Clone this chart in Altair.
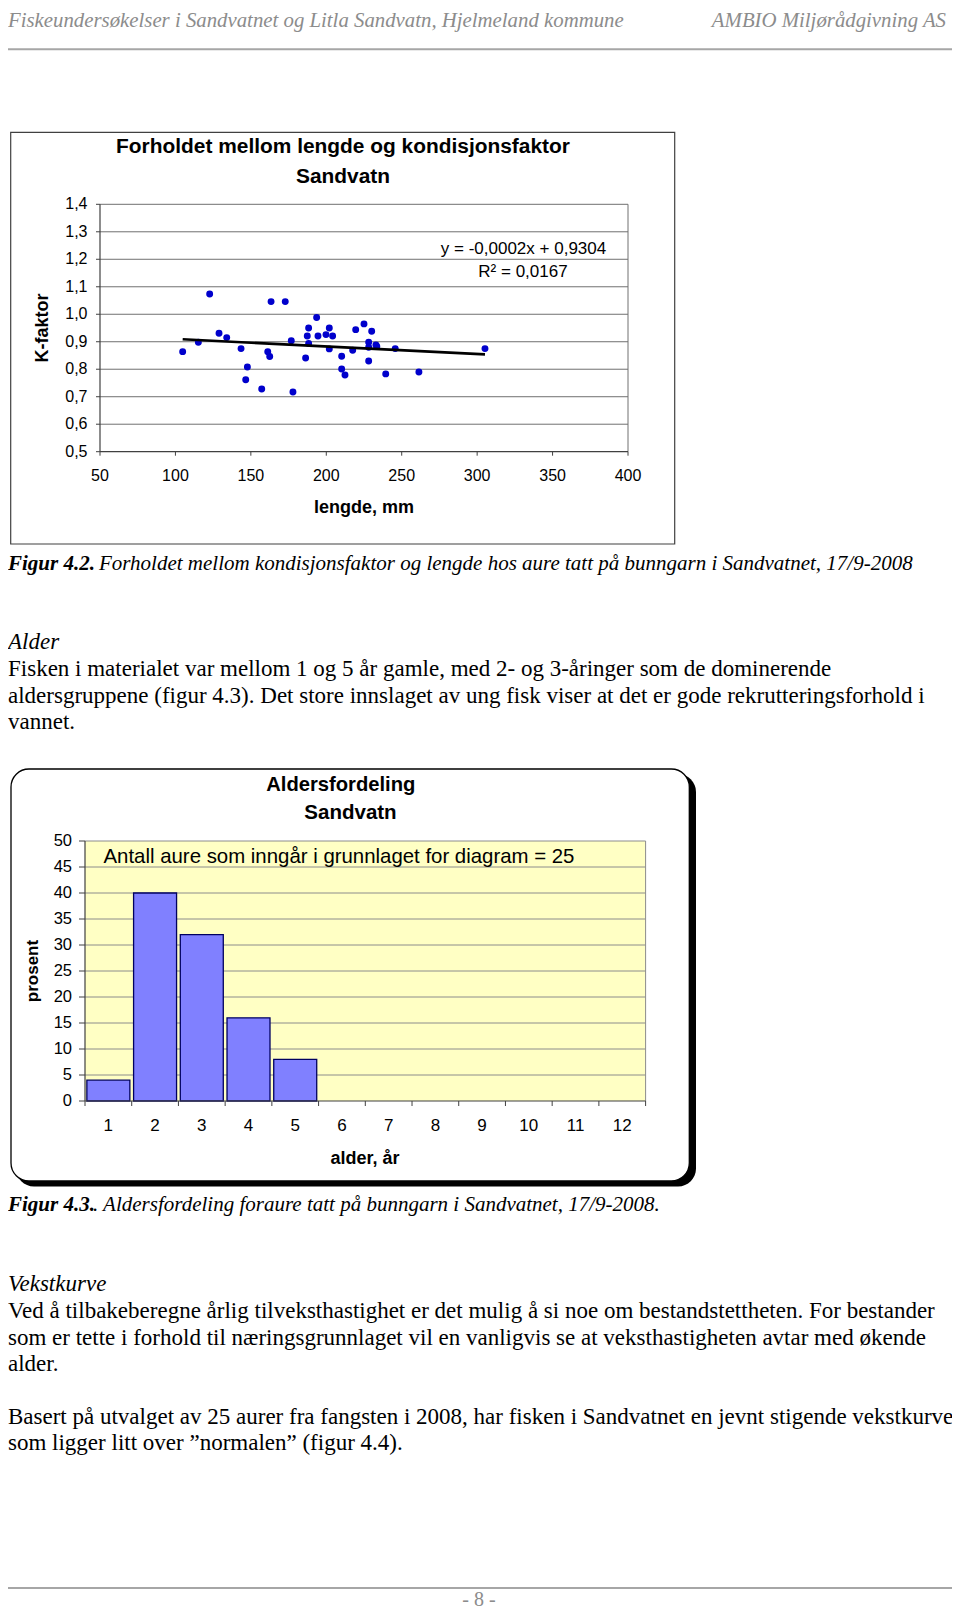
import altair as alt
import pandas as pd

OFF = 8
W, H = 944, 1603


def P(v):
    return v - OFF


# ---------------- data ----------------
lengde = [104.8, 115.2, 122.7, 128.9, 134.0, 143.5, 147.7, 146.6, 157.2, 161.2,
          162.5, 163.4, 172.8, 176.8, 177.9, 186.3, 187.4, 188.3, 188.3, 193.6,
          194.5, 199.8, 202.0, 202.0, 204.2, 210.2, 210.2, 212.4, 217.5, 219.5,
          225.0, 228.1, 228.1, 230.1, 228.1, 232.9, 233.5, 239.4, 245.7, 261.4, 305.2]
kfaktor = [0.864, 0.898, 1.074, 0.931, 0.915, 0.875, 0.808, 0.762, 0.728, 0.864,
           0.846, 1.046, 1.046, 0.904, 0.717, 0.841, 0.921, 0.950, 0.894, 0.988,
           0.921, 0.926, 0.950, 0.874, 0.921, 0.847, 0.801, 0.779, 0.869, 0.944,
           0.965, 0.898, 0.830, 0.938, 0.880, 0.888, 0.883, 0.783, 0.875, 0.790, 0.875]
trend_lengde = [104.8, 305.2]
trend_k = [0.909, 0.854]

s_xticks = [50, 100, 150, 200, 250, 300, 350, 400]
s_yticks = [0.5, 0.6, 0.7, 0.8, 0.9, 1.0, 1.1, 1.2, 1.3, 1.4]
s_ylabels = ["0,5", "0,6", "0,7", "0,8", "0,9", "1,0", "1,1", "1,2", "1,3", "1,4"]

alder_all = [str(a) for a in range(1, 13)]
alder = ["1", "2", "3", "4", "5"]
prosent = [4, 40, 32, 16, 8]
b_yticks = [0, 5, 10, 15, 20, 25, 30, 35, 40, 45, 50]
b_bounds = [0.5 + i for i in range(13)]

header_left = "Fiskeundersøkelser i Sandvatnet og Litla Sandvatn, Hjelmeland kommune"
header_right = "AMBIO Miljørådgivning AS"
cap1_bold = "Figur 4.2."
cap1_rest = "Forholdet mellom kondisjonsfaktor og lengde hos aure tatt på bunngarn i Sandvatnet, 17/9-2008"
alder_head = "Alder"
alder_lines = [
    "Fisken i materialet var mellom 1 og 5 år gamle, med 2- og 3-åringer som de dominerende",
    "aldersgruppene (figur 4.3). Det store innslaget av ung fisk viser at det er gode rekrutteringsforhold i",
    "vannet.",
]
cap2_bold = "Figur 4.3."
cap2_rest = ". Aldersfordeling foraure tatt på bunngarn i Sandvatnet, 17/9-2008."
vekst_head = "Vekstkurve"
vekst_lines = [
    "Ved å tilbakeberegne årlig tilveksthastighet er det mulig å si noe om bestandstettheten. For bestander",
    "som er tette i forhold til næringsgrunnlaget vil en vanligvis se at veksthastigheten avtar med økende",
    "alder.",
]
vekst_lines2 = [
    "Basert på utvalget av 25 aurer fra fangsten i 2008, har fisken i Sandvatnet en jevnt stigende vekstkurve",
    "som ligger litt over ”normalen” (figur 4.4).",
]

SERIF = "Liberation Serif"
SANS = "Liberation Sans"

# ---------------- scales ----------------
sx = alt.Scale(domain=[50, 400], range=[P(100), P(628)], nice=False, zero=False)
sy = alt.Scale(domain=[0.5, 1.4], range=[P(451.7), P(204.3)], nice=False, zero=False)
bx = alt.Scale(type="band", domain=alder_all, range=[P(85), P(645.6)],
               paddingInner=0.08, paddingOuter=0.04)
bxl = alt.Scale(domain=[0.5, 12.5], range=[P(85), P(645.6)], nice=False, zero=False)
by = alt.Scale(domain=[0, 50], range=[P(1101), P(841)], nice=False, zero=False)

ONE = alt.Data(values=[{"t": ""}])


def txt(s, x, y, size, font=SERIF, weight="normal", style="normal", align="left",
        color="black", angle=0):
    mk = dict(font=font, fontSize=size, fontWeight=weight, fontStyle=style,
              align=align, baseline="middle", color=color)
    if angle:
        mk["angle"] = angle
    return alt.Chart(alt.Data(values=[{"t": s}])).mark_text(**mk).encode(
        x=alt.value(P(x)), y=alt.value(P(y)), text="t:N")


def hline(x1, x2, y, color, width):
    return alt.Chart(ONE).mark_rule(color=color, strokeWidth=width).encode(
        x=alt.value(P(x1)), x2=alt.value(P(x2)), y=alt.value(P(y)))


def vline(x, y1, y2, color, width):
    return alt.Chart(ONE).mark_rule(color=color, strokeWidth=width).encode(
        x=alt.value(P(x)), y=alt.value(P(y1)), y2=alt.value(P(y2)))


def box(x1, y1, x2, y2, fill, stroke=None, sw=0, r=0):
    mk = dict(fill=fill, cornerRadius=r)
    if stroke:
        mk["stroke"] = stroke
        mk["strokeWidth"] = sw
    return alt.Chart(ONE).mark_rect(**mk).encode(
        x=alt.value(P(x1)), x2=alt.value(P(x2)), y=alt.value(P(y1)), y2=alt.value(P(y2)))


layers = []

# ---------------- page header / footer ----------------
layers.append(txt(header_left, 8, 20.5, 20.8, style="italic", color="#8c8c8c"))
layers.append(txt(header_right, 946, 20.5, 20.8, style="italic", color="#8c8c8c", align="right"))
layers.append(hline(8, 952, 49.3, "#a6a6a6", 2))
layers.append(hline(8, 952, 1588, "#a6a6a6", 2))
layers.append(txt("- 8 -", 479, 1600, 20, color="#8c8c8c", align="center"))

# ---------------- scatter chart ----------------
layers.append(box(10.7, 132.3, 674.7, 544, "white", "#404040", 1.2))

sgrid_df = pd.DataFrame({"v": s_yticks[1:]})
layers.append(alt.Chart(sgrid_df).mark_rule(color="#707070", strokeWidth=1).encode(
    x=alt.value(P(100)), x2=alt.value(P(628)), y=alt.Y("v:Q", scale=sy, axis=None)))
layers.append(vline(628, 204.3, 451.7, "#707070", 1))
# y ticks
sy_df = pd.DataFrame({"v": s_yticks, "lab": s_ylabels})
layers.append(alt.Chart(sy_df).mark_rule(color="#404040", strokeWidth=1).encode(
    x=alt.value(P(96)), x2=alt.value(P(100)), y=alt.Y("v:Q", scale=sy, axis=None)))
layers.append(alt.Chart(sy_df).mark_text(font=SANS, fontSize=16, align="right", baseline="middle").encode(
    x=alt.value(P(87.5)), y=alt.Y("v:Q", scale=sy, axis=None), text="lab:N"))
# x ticks
sx_df = pd.DataFrame({"v": s_xticks, "lab": [str(v) for v in s_xticks]})
layers.append(alt.Chart(sx_df).mark_rule(color="#404040", strokeWidth=1).encode(
    x=alt.X("v:Q", scale=sx, axis=None), y=alt.value(P(451.7)), y2=alt.value(P(455.7))))
layers.append(alt.Chart(sx_df).mark_text(font=SANS, fontSize=16, align="center", baseline="middle").encode(
    x=alt.X("v:Q", scale=sx, axis=None), y=alt.value(P(476)), text="lab:N"))
# axis lines
layers.append(vline(100, 204.3, 451.7, "#404040", 1.2))
layers.append(hline(100, 628, 451.7, "#404040", 1.2))

# points and trend line
pts_df = pd.DataFrame({"lengde": lengde, "k": kfaktor})
layers.append(alt.Chart(pts_df).mark_circle(size=48, color="#0000cc", opacity=1).encode(
    x=alt.X("lengde:Q", scale=sx, axis=None), y=alt.Y("k:Q", scale=sy, axis=None)))
trend_df = pd.DataFrame({"lengde": trend_lengde, "k": trend_k})
layers.append(alt.Chart(trend_df).mark_line(color="black", strokeWidth=2.6).encode(
    x=alt.X("lengde:Q", scale=sx, axis=None), y=alt.Y("k:Q", scale=sy, axis=None)))

# scatter texts
layers.append(txt("Forholdet mellom lengde og kondisjonsfaktor", 343, 147.3, 20.9, font=SANS,
                  weight="bold", align="center"))
layers.append(txt("Sandvatn", 343, 176.7, 20.9, font=SANS, weight="bold", align="center"))
layers.append(txt("y = -0,0002x + 0,9304", 523.5, 249, 17, font=SANS, align="center"))
layers.append(txt("R² = 0,0167", 523, 272.4, 17, font=SANS, align="center"))
layers.append(txt("lengde, mm", 364, 508.3, 18, font=SANS, weight="bold", align="center"))
layers.append(txt("K-faktor", 43, 328, 18, font=SANS, weight="bold", align="center", angle=270))

# captions and text paragraphs
layers.append(txt(cap1_bold, 8, 564.3, 21, weight="bold", style="italic"))
layers.append(txt(cap1_rest, 99, 564.3, 21, style="italic"))
layers.append(txt(alder_head, 8, 642.4, 23, style="italic"))
for i, line in enumerate(alder_lines):
    layers.append(txt(line, 8, 669 + i * 26.7, 23))

# ---------------- bar chart ----------------
layers.append(box(16, 774, 696, 1186.5, "black", r=18))
layers.append(box(11, 769, 689.3, 1181, "white", "black", 1.3, r=18))
layers.append(box(85, 841, 645.6, 1101, "#ffffc4"))

bgrid_df = pd.DataFrame({"v": b_yticks[1:]})
layers.append(alt.Chart(bgrid_df).mark_rule(color="#8c8c8c", strokeWidth=1).encode(
    x=alt.value(P(85)), x2=alt.value(P(645.6)), y=alt.Y("v:Q", scale=by, axis=None)))
layers.append(vline(645.6, 841, 1101, "#8c8c8c", 1))

by_df = pd.DataFrame({"v": b_yticks, "lab": [str(v) for v in b_yticks]})
layers.append(alt.Chart(by_df).mark_rule(color="#404040", strokeWidth=1).encode(
    x=alt.value(P(79)), x2=alt.value(P(85)), y=alt.Y("v:Q", scale=by, axis=None)))
layers.append(alt.Chart(by_df).mark_text(font=SANS, fontSize=16.5, align="right", baseline="middle").encode(
    x=alt.value(P(72)), y=alt.Y("v:Q", scale=by, axis=None), text="lab:N"))

bb_df = pd.DataFrame({"v": b_bounds})
layers.append(alt.Chart(bb_df).mark_rule(color="#404040", strokeWidth=1).encode(
    x=alt.X("v:Q", scale=bxl, axis=None), y=alt.value(P(1101)), y2=alt.value(P(1106))))

bars_df = pd.DataFrame({"alder": alder, "prosent": prosent})
layers.append(alt.Chart(bars_df).mark_bar(color="#8080ff", stroke="#000060", strokeWidth=1.3).encode(
    x=alt.X("alder:O", scale=bx, axis=None), y=alt.Y("prosent:Q", scale=by, axis=None),
    y2=alt.datum(0)))

layers.append(vline(85, 841, 1101, "#404040", 1.2))
layers.append(hline(85, 645.6, 1101, "#404040", 1.2))

bxlab_df = pd.DataFrame({"alder": alder_all})
layers.append(alt.Chart(bxlab_df).mark_text(font=SANS, fontSize=17, align="center", baseline="middle").encode(
    x=alt.X("alder:O", scale=bx, axis=None), y=alt.value(P(1125.7)), text="alder:N"))

layers.append(txt("Aldersfordeling", 340.8, 785, 20.2, font=SANS, weight="bold", align="center"))
layers.append(txt("Sandvatn", 350.5, 813.3, 20.5, font=SANS, weight="bold", align="center"))
layers.append(txt("Antall aure som inngår i grunnlaget for diagram = 25", 103.5, 856.7, 20.4,
                  font=SANS))
layers.append(txt("alder, år", 365, 1159.3, 18, font=SANS, weight="bold", align="center"))
layers.append(txt("prosent", 33.3, 971, 17, font=SANS, weight="bold", align="center", angle=270))

layers.append(txt(cap2_bold, 8, 1204.6, 21, weight="bold", style="italic"))
layers.append(txt(cap2_rest, 93, 1204.6, 21, style="italic"))

layers.append(txt(vekst_head, 8, 1283.7, 23, style="italic"))
for i, line in enumerate(vekst_lines):
    layers.append(txt(line, 8, 1311.3 + i * 26.3, 23))
for i, line in enumerate(vekst_lines2):
    layers.append(txt(line, 8, 1417.3 + i * 25.9, 23))

chart = alt.layer(*layers).resolve_scale(
    x="independent", y="independent"
).properties(
    width=W, height=H, padding=0,
    autosize=alt.AutoSizeParams(type="none"),
    background="white",
).configure_view(stroke=None)

chart.save("out.html", embed_options={"renderer": "svg", "actions": False})
